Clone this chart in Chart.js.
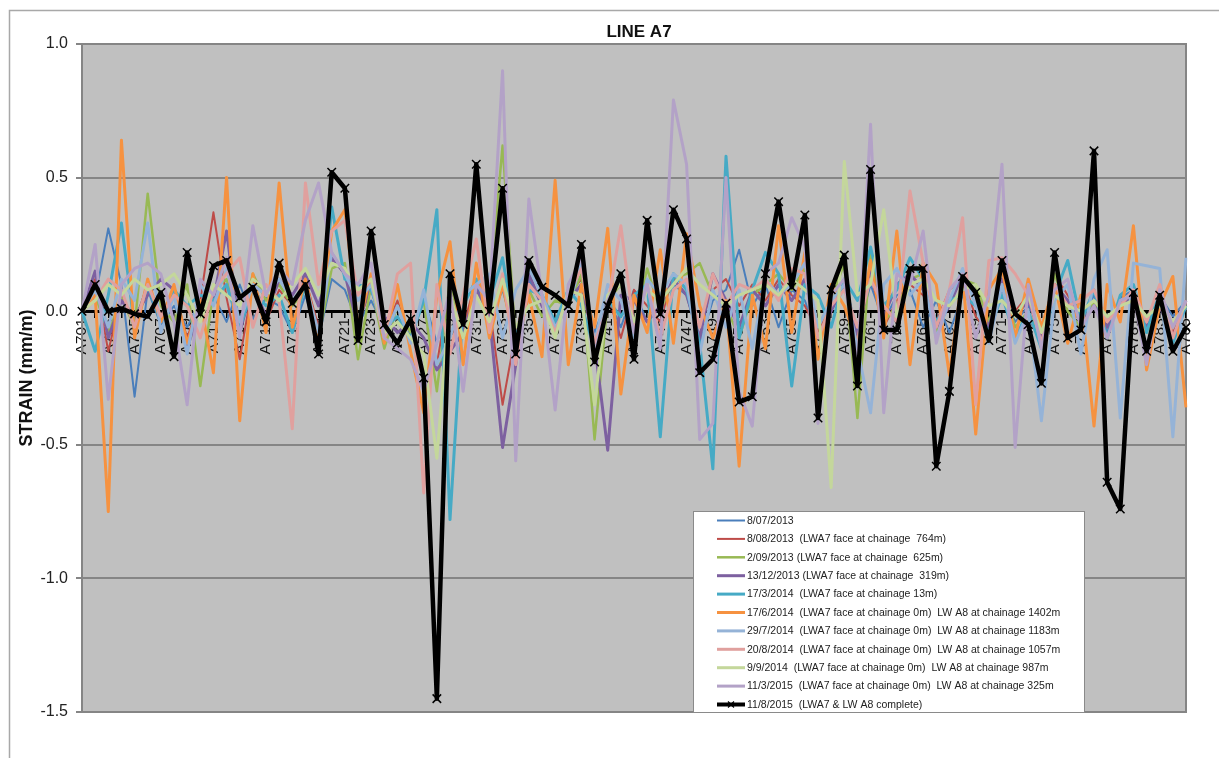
<!DOCTYPE html>
<html>
<head>
<meta charset="utf-8">
<title>LINE A7</title>
<script src="https://cdn.jsdelivr.net/npm/chart.js@4.4.1/dist/chart.umd.min.js"></script>
<style>
  html, body { margin: 0; padding: 0; background: #fff; }
  canvas { display: block; }
</style>
</head>
<body>
<canvas id="strain-chart" width="1219" height="758"></canvas>
<script>
// Survey pegs along line A7
const stations = [
  "A701", "A702", "A703", "A704", "A705", "A706", "A707", "A708", "A709", "A710",
  "A711", "A712", "A713", "A714", "A715", "A716", "A717", "A718", "A719", "A720",
  "A721", "A722", "A723", "A724", "A725", "A726", "A727", "A728", "A729", "A730",
  "A731", "A732", "A733", "A734", "A735", "A736", "A737", "A738", "A739", "A740",
  "A741", "A742", "A743", "A744", "A745", "A746", "A747", "A748", "A749", "A750",
  "A751", "A752", "A753", "A754", "A755", "A756", "A757", "A758", "A759", "A760",
  "A761", "A762", "A763", "A764", "A765", "A766", "A767", "A768", "A769", "A770",
  "A771", "A772", "A773", "A774", "A775", "A776", "A777", "A778", "A779", "A780",
  "A781", "A782", "A783", "A784", "A785"
]

const strainTicks = [1.0, 0.5, 0.0, -0.5, -1.0, -1.5]

// Strain (mm/m) per survey
const s20130708 = [
  0.00, 0.05, 0.31, 0.10, -0.32, 0.08, -0.05, 0.02, -0.06, 0.04,
  0.06, -0.04, 0.10, -0.03, 0.05, 0.02, -0.08, 0.06, -0.10, 0.12,
  0.08, -0.05, 0.04, -0.06, 0.03, -0.10, 0.05, -0.12, 0.06, -0.08,
  0.10, -0.04, 0.08, -0.10, 0.12, 0.02, -0.06, 0.04, 0.10, -0.08,
  0.05, -0.06, 0.08, -0.04, 0.02, 0.10, 0.06, -0.12, 0.04, 0.08,
  0.23, 0.02, 0.10, -0.06, 0.08, 0.04, -0.10, 0.06, 0.12, -0.08,
  0.10, -0.04, 0.06, 0.08, -0.06, 0.04, -0.08, 0.06, 0.02, -0.05,
  0.08, -0.04, 0.02, -0.06, 0.10, 0.04, -0.04, 0.06, -0.08, 0.05,
  0.08, -0.04, 0.06, -0.02, 0.04
]
const s20130808 = [
  0.00, 0.12, -0.15, 0.06, -0.04, 0.10, -0.02, 0.08, -0.10, 0.04,
  0.37, 0.05, -0.18, 0.10, -0.04, 0.08, 0.02, 0.12, -0.06, 0.20,
  0.15, -0.04, 0.08, -0.08, 0.04, -0.12, 0.06, -0.20, 0.10, -0.06,
  0.12, 0.02, -0.35, -0.08, 0.10, 0.04, -0.04, 0.06, 0.12, -0.15,
  0.06, -0.10, 0.08, 0.02, -0.04, 0.14, 0.10, -0.06, 0.08, 0.12,
  0.02, 0.10, 0.04, 0.12, 0.06, 0.02, -0.08, 0.04, 0.10, -0.10,
  0.14, -0.06, 0.04, 0.10, 0.06, -0.04, 0.08, 0.12, -0.02, -0.08,
  0.12, 0.00, 0.06, -0.10, 0.14, 0.06, -0.02, 0.04, -0.06, 0.02,
  0.06, -0.06, 0.04, -0.08, 0.02
]
const s20130902 = [
  0.00, 0.06, -0.08, 0.05, -0.06, 0.44, 0.02, -0.04, 0.10, -0.28,
  0.08, 0.12, -0.06, 0.14, 0.04, 0.10, 0.02, 0.08, -0.10, 0.16,
  0.18, -0.18, 0.10, -0.14, 0.02, -0.08, 0.04, -0.30, 0.12, -0.10,
  0.10, 0.06, 0.62, -0.12, 0.08, -0.02, 0.04, 0.02, 0.14, -0.48,
  0.04, 0.10, -0.06, 0.16, 0.00, 0.12, 0.14, 0.18, 0.06, 0.02,
  -0.10, 0.06, 0.10, 0.14, 0.08, 0.16, -0.06, 0.04, 0.18, -0.40,
  0.22, -0.04, 0.02, 0.12, 0.14, -0.08, 0.04, 0.12, 0.10, -0.04,
  0.10, -0.06, 0.00, -0.12, 0.14, 0.00, -0.06, 0.04, -0.04, 0.02,
  0.06, -0.08, 0.04, -0.06, 0.02
]
const s20131213 = [
  0.00, 0.15, -0.10, 0.04, -0.02, 0.06, 0.12, 0.08, -0.14, 0.02,
  0.04, 0.30, -0.08, 0.10, -0.02, 0.12, 0.06, 0.14, 0.02, 0.20,
  0.14, -0.06, 0.12, -0.02, -0.08, -0.04, -0.10, -0.22, -0.15, -0.08,
  0.08, -0.02, -0.51, -0.20, 0.14, 0.02, -0.06, 0.04, 0.10, -0.12,
  -0.52, 0.06, 0.04, -0.04, 0.02, 0.12, 0.06, -0.10, 0.14, 0.04,
  -0.06, 0.08, 0.02, 0.10, 0.04, 0.12, -0.10, 0.00, 0.10, -0.10,
  0.16, -0.02, 0.10, 0.14, 0.08, -0.06, 0.02, 0.14, 0.06, -0.06,
  0.12, -0.02, 0.04, -0.10, 0.10, 0.04, -0.04, 0.02, -0.06, 0.04,
  0.04, -0.06, 0.02, -0.10, 0.04
]
const s20140317 = [
  0.00, -0.15, 0.06, 0.33, -0.06, 0.10, -0.04, 0.08, 0.02, 0.06,
  0.04, 0.10, -0.06, 0.08, 0.02, 0.06, -0.08, 0.10, -0.12, 0.39,
  0.12, 0.10, 0.08, -0.06, -0.02, -0.10, 0.04, 0.38, -0.78, 0.02,
  0.12, 0.04, 0.20, -0.10, 0.08, 0.06, -0.04, 0.08, 0.02, -0.14,
  0.04, -0.02, 0.06, 0.10, -0.47, 0.14, 0.08, -0.12, -0.59, 0.58,
  -0.10, 0.08, 0.22, 0.14, -0.28, 0.10, 0.06, -0.06, 0.12, 0.04,
  0.24, 0.02, 0.08, 0.20, 0.12, -0.04, 0.04, 0.06, 0.02, -0.08,
  0.06, -0.10, 0.00, -0.14, 0.06, 0.19, -0.04, 0.08, -0.10, 0.06,
  0.10, -0.08, 0.08, -0.12, 0.02
]
const s20140617 = [
  0.00, 0.06, -0.75, 0.64, -0.10, 0.12, -0.04, 0.10, -0.12, 0.04,
  -0.23, 0.50, -0.41, 0.14, -0.08, 0.48, -0.06, 0.12, -0.10, 0.30,
  0.38, -0.06, 0.14, -0.12, 0.10, -0.15, -0.38, 0.06, 0.26, -0.20,
  0.18, -0.10, 0.10, -0.14, 0.06, -0.17, 0.49, -0.20, 0.10, -0.06,
  0.31, -0.31, 0.06, -0.08, 0.23, -0.12, 0.29, 0.02, -0.10, 0.04,
  -0.58, 0.06, -0.14, 0.32, -0.08, 0.22, -0.18, 0.10, 0.02, -0.12,
  0.19, -0.10, 0.30, -0.20, 0.18, 0.10, -0.24, 0.14, -0.46, 0.08,
  0.16, -0.10, 0.12, -0.06, 0.10, -0.12, 0.06, -0.43, 0.10, -0.04,
  0.32, -0.22, 0.02, 0.13, -0.36
]
const s20140729 = [
  0.00, 0.08, -0.06, 0.12, 0.04, 0.33, -0.08, 0.06, -0.16, 0.10,
  0.02, 0.16, -0.04, 0.10, 0.06, 0.12, 0.04, 0.10, -0.08, 0.22,
  0.14, 0.04, 0.10, -0.10, 0.02, -0.12, 0.08, -0.20, -0.10, 0.06,
  0.10, 0.14, -0.10, 0.08, 0.16, 0.06, -0.06, 0.02, 0.18, -0.12,
  0.10, 0.04, -0.10, 0.12, 0.06, 0.14, 0.10, -0.16, 0.08, -0.06,
  0.08, -0.14, 0.12, 0.06, 0.10, 0.18, -0.06, 0.04, 0.10, -0.14,
  -0.38, 0.10, 0.16, 0.06, 0.12, -0.10, 0.04, 0.16, 0.02, -0.12,
  0.10, -0.12, 0.00, -0.41, 0.04, 0.10, -0.16, 0.12, 0.23, -0.40,
  0.18, 0.17, 0.16, -0.47, 0.20
]
const s20140820 = [
  0.00, 0.04, 0.12, 0.08, -0.06, 0.10, -0.02, 0.06, 0.02, -0.10,
  0.08, 0.14, 0.20, -0.06, 0.10, 0.04, -0.44, 0.48, 0.10, 0.30,
  0.34, 0.06, 0.12, -0.10, 0.14, 0.18, -0.68, 0.10, -0.16, 0.06,
  0.27, -0.08, 0.14, -0.20, 0.10, 0.04, -0.08, 0.06, 0.16, -0.12,
  0.02, 0.32, -0.06, 0.10, -0.10, 0.08, 0.12, -0.06, 0.14, 0.02,
  0.10, 0.08, 0.12, 0.04, 0.16, 0.14, -0.10, 0.02, 0.08, -0.06,
  0.12, 0.02, -0.04, 0.45, 0.18, -0.06, 0.08, 0.35, -0.35, 0.19,
  0.20, 0.14, 0.06, -0.12, 0.10, 0.02, 0.04, 0.08, -0.04, 0.02,
  0.08, -0.04, 0.10, -0.10, 0.04
]
const s20140909 = [
  0.00, 0.04, 0.10, 0.06, 0.12, 0.08, 0.10, 0.14, 0.06, -0.04,
  0.10, 0.06, 0.02, 0.12, 0.08, 0.04, 0.10, 0.16, 0.06, 0.18,
  0.16, 0.08, 0.12, -0.08, -0.04, -0.10, -0.16, -0.55, 0.06, -0.10,
  0.06, -0.04, 0.12, -0.06, 0.02, 0.04, -0.10, 0.08, 0.06, -0.35,
  0.06, 0.10, -0.04, 0.08, 0.04, 0.10, 0.16, 0.10, 0.06, 0.02,
  0.06, 0.08, 0.10, 0.06, 0.12, 0.08, 0.04, -0.66, 0.56, 0.06,
  0.10, 0.38, -0.02, 0.10, 0.12, 0.04, 0.02, 0.08, 0.10, 0.02,
  0.04, -0.02, 0.06, -0.08, 0.06, 0.02, 0.00, 0.04, -0.02, 0.02,
  0.04, -0.02, 0.02, -0.04, 0.02
]
const s20150311 = [
  0.00, 0.25, -0.33, 0.10, 0.16, 0.18, 0.14, -0.04, -0.35, 0.12,
  0.06, 0.20, -0.10, 0.32, 0.06, 0.16, 0.10, 0.34, 0.48, 0.22,
  0.14, 0.10, 0.18, -0.10, -0.14, -0.18, -0.30, -0.12, 0.08, -0.30,
  0.10, 0.04, 0.90, -0.56, 0.42, 0.06, -0.37, 0.10, 0.20, -0.16,
  0.04, 0.14, -0.08, 0.10, -0.14, 0.79, 0.55, -0.48, -0.42, 0.50,
  -0.30, -0.43, 0.14, 0.18, 0.35, 0.24, -0.42, 0.06, 0.12, -0.20,
  0.70, -0.38, 0.14, 0.10, 0.30, -0.12, 0.08, 0.14, -0.10, 0.06,
  0.55, -0.51, 0.10, -0.14, 0.08, 0.12, -0.06, 0.02, -0.10, 0.04,
  0.06, -0.20, 0.08, -0.06, 0.04
]
const s20150811 = [
  0.00, 0.10, 0.00, 0.01, -0.01, -0.02, 0.07, -0.17, 0.22, -0.01,
  0.17, 0.19, 0.05, 0.09, -0.04, 0.18, 0.03, 0.10, -0.16, 0.52,
  0.46, -0.11, 0.30, -0.05, -0.12, -0.03, -0.25, -1.45, 0.14, -0.05,
  0.55, 0.00, 0.46, -0.16, 0.19, 0.09, 0.06, 0.02, 0.25, -0.19,
  0.02, 0.14, -0.18, 0.34, -0.01, 0.38, 0.27, -0.23, -0.18, 0.03,
  -0.34, -0.32, 0.14, 0.41, 0.09, 0.36, -0.40, 0.08, 0.21, -0.28,
  0.53, -0.07, -0.07, 0.16, 0.16, -0.58, -0.30, 0.13, 0.07, -0.11,
  0.19, -0.01, -0.05, -0.27, 0.22, -0.10, -0.07, 0.60, -0.64, -0.74,
  0.07, -0.15, 0.06, -0.15, -0.06
]

const surveyNames = [
  "8/07/2013",
  "8/08/2013  (LWA7 face at chainage  764m)",
  "2/09/2013 (LWA7 face at chainage  625m)",
  "13/12/2013 (LWA7 face at chainage  319m)",
  "17/3/2014  (LWA7 face at chainage 13m)",
  "17/6/2014  (LWA7 face at chainage 0m)  LW A8 at chainage 1402m",
  "29/7/2014  (LWA7 face at chainage 0m)  LW A8 at chainage 1183m",
  "20/8/2014  (LWA7 face at chainage 0m)  LW A8 at chainage 1057m",
  "9/9/2014  (LWA7 face at chainage 0m)  LW A8 at chainage 987m",
  "11/3/2015  (LWA7 face at chainage 0m)  LW A8 at chainage 325m",
  "11/8/2015  (LWA7 & LW A8 complete)"
]
const surveyValues = [
  s20130708, s20130808, s20130902, s20131213, s20140317, s20140617,
  s20140729, s20140820, s20140909, s20150311, s20150811
]
const surveyColors = [
  "#4a7ebb", "#be4b48", "#98b954", "#7d60a0", "#46aac5", "#f69240",
  "#95b3d7", "#e0a09e", "#c4d79b", "#b3a2c7", "#000000"
]
const surveyWidths = [2, 2, 2.5, 3, 3, 3, 3, 3, 3, 3, 4.5]

Chart.defaults.font.family = "'Liberation Sans', Arial, sans-serif"
Chart.defaults.color = "#222"

const datasets = surveyValues.map((values, i) => {
  const last = i === surveyValues.length - 1
  return {
    label: surveyNames[i],
    data: values,
    borderColor: surveyColors[i],
    backgroundColor: surveyColors[i],
    borderWidth: surveyWidths[i],
    borderJoinStyle: "round",
    tension: 0,
    fill: false,
    // later surveys sit on top
    order: surveyValues.length - i,
    pointStyle: last ? "crossRot" : "circle",
    pointRadius: last ? 6 : 0,
    pointBorderWidth: last ? 1.5 : 0,
    pointBorderColor: "#000"
  }
})

// plot background, outer frame, title and the boxed legend
const chartDecor = {
  id: "chartDecor",
  beforeDraw(chart) {
    const { ctx, chartArea: a } = chart
    ctx.save()
    ctx.fillStyle = "#fff"
    ctx.fillRect(0, 0, chart.width, chart.height)
    ctx.strokeStyle = "#a8a8a8"
    ctx.lineWidth = 1.5
    ctx.strokeRect(9.5, 10.5, chart.width + 40, chart.height + 40)
    ctx.fillStyle = "#c0c0c0"
    ctx.fillRect(a.left, a.top, a.right - a.left, a.bottom - a.top)
    ctx.strokeStyle = "#858585"
    ctx.lineWidth = 2
    ctx.strokeRect(a.left, a.top, a.right - a.left, a.bottom - a.top)
    ctx.restore()
  },
  afterDraw(chart) {
    const { ctx, chartArea: a } = chart
    ctx.save()
    ctx.fillStyle = "#111"
    ctx.font = "bold 17px 'Liberation Sans', Arial, sans-serif"
    ctx.textAlign = "center"
    ctx.textBaseline = "middle"
    ctx.fillText("LINE A7", (a.left + a.right) / 2 + 5, 32)

    // legend box
    const bx = 693, by = 511, bw = 391, bh = a.bottom - 511
    ctx.fillStyle = "#fff"
    ctx.fillRect(bx, by, bw, bh)
    ctx.strokeStyle = "#8a8a8a"
    ctx.lineWidth = 1
    ctx.strokeRect(bx + 0.5, by + 0.5, bw, bh)
    ctx.font = "10.5px 'Liberation Sans', Arial, sans-serif"
    ctx.textAlign = "left"
    chart.data.datasets.forEach((ds, k) => {
      const y = by + 9.5 + k * 18.4
      ctx.strokeStyle = ds.borderColor
      ctx.lineWidth = Math.min(ds.borderWidth, 4)
      ctx.beginPath()
      ctx.moveTo(717, y)
      ctx.lineTo(745, y)
      ctx.stroke()
      if (ds.pointRadius > 0) {
        ctx.lineWidth = 1.2
        ctx.beginPath()
        ctx.moveTo(728, y - 3); ctx.lineTo(734, y + 3)
        ctx.moveTo(728, y + 3); ctx.lineTo(734, y - 3)
        ctx.stroke()
      }
      ctx.fillStyle = "#222"
      ctx.fillText(ds.label, 747, y + 0.5)
    })
    ctx.restore()
  }
}

new Chart(document.getElementById("strain-chart"), {
  type: "line",
  data: { labels: stations, datasets },
  plugins: [chartDecor],
  options: {
    responsive: false,
    animation: false,
    devicePixelRatio: 1,
    layout: { padding: { left: 10, right: 33, top: 44, bottom: 46 } },
    plugins: {
      legend: { display: false },
      title: { display: false },
      tooltip: { enabled: false }
    },
    scales: {
      x: {
        type: "category",
        position: { y: 0 },
        offset: false,
        grid: { drawOnChartArea: false, drawTicks: true, tickLength: 5, color: "#000", lineWidth: 1.5 },
        border: { display: true, color: "#000", width: 3, dash: [7, 6] },
        ticks: {
          autoSkip: false,
          minRotation: 90,
          maxRotation: 90,
          padding: 2,
          color: "#111",
          font: { size: 15.5 },
          callback: (value, index) => (index % 2 === 0 ? stations[index] : "")
        },
        afterFit: (scale) => {
          scale.paddingLeft = 0
          scale.paddingRight = 0
        }
      },
      y: {
        min: -1.5,
        max: 1.0,
        afterBuildTicks: (scale) => {
          scale.ticks = strainTicks.map((v) => ({ value: v }))
        },
        afterFit: (scale) => {
          scale.width = 72
        },
        grid: {
          color: (c) => (c.tick && c.tick.value === 0 ? "rgba(0,0,0,0)" : "#858585"),
          lineWidth: 2,
          tickLength: 6
        },
        border: { color: "#858585", width: 2 },
        ticks: {
          padding: 8,
          color: "#222",
          font: { size: 16 },
          callback: (value) => Number(value).toFixed(1)
        },
        title: {
          display: true,
          text: "STRAIN (mm/m)",
          color: "#111",
          font: { size: 18, weight: "bold" },
          padding: { top: 6, bottom: 4 }
        }
      }
    }
  }
})
</script>
</body>
</html>
